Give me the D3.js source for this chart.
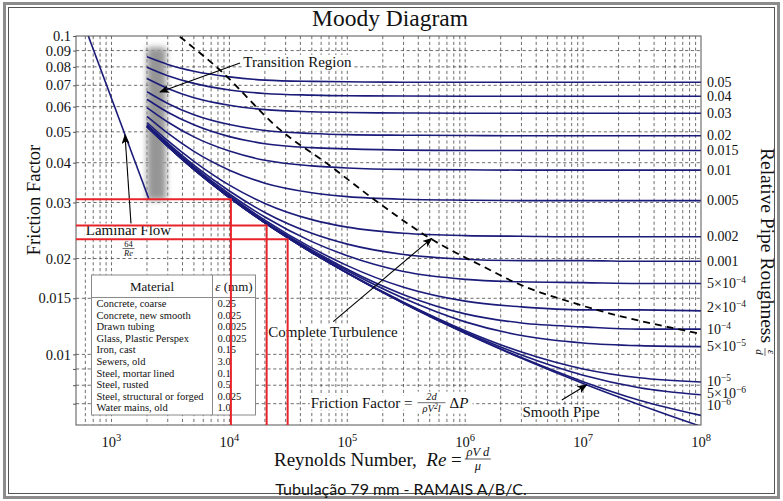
<!DOCTYPE html>
<html>
<head>
<meta charset="utf-8">
<script src="https://cdn.jsdelivr.net/npm/d3@7"></script>
<style>
  body { margin: 0; background: #fff; }
  svg { display: block; }
  text { font-family: "Liberation Serif", "Times New Roman", serif; fill: #111; }
</style>
</head>
<body>
<svg id="chart" width="783" height="501"></svg>
<script>
// ---- data ----
const reSamples = [2000, 3000, 5000, 1e4, 2e4, 5e4, 1e5, 3e5, 1e6, 3e6, 1e7, 3e7, 1e8];

const roughLabels = ["0.05", "0.04", "0.03", "0.02", "0.015", "0.01", "0.005", "0.002", "0.001",
  "5×10|−4", "2×10|−4", "10|−4", "5×10|−5", "10|−5", "5×10|−6", "10|−6", ""];

const fRough050 = [0.0860, 0.0814, 0.0775, 0.0744, 0.0727, 0.0720, 0.0718, 0.0716, 0.0716, 0.0716, 0.0716, 0.0716, 0.0716];
const fRough040 = [0.0798, 0.0750, 0.0710, 0.0677, 0.0660, 0.0652, 0.0649, 0.0648, 0.0647, 0.0647, 0.0647, 0.0647, 0.0647];
const fRough030 = [0.0735, 0.0684, 0.0640, 0.0606, 0.0587, 0.0578, 0.0575, 0.0573, 0.0572, 0.0572, 0.0572, 0.0572, 0.0572];
const fRough020 = [0.0668, 0.0614, 0.0566, 0.0527, 0.0505, 0.0494, 0.0490, 0.0488, 0.0487, 0.0486, 0.0486, 0.0486, 0.0486];
const fRough015 = [0.0633, 0.0576, 0.0526, 0.0483, 0.0459, 0.0446, 0.0442, 0.0438, 0.0437, 0.0437, 0.0437, 0.0437, 0.0437];
const fRough010 = [0.0596, 0.0537, 0.0482, 0.0435, 0.0407, 0.0391, 0.0385, 0.0381, 0.0380, 0.0379, 0.0379, 0.0379, 0.0379];
const fRough005 = [0.0559, 0.0495, 0.0434, 0.0379, 0.0345, 0.0322, 0.0313, 0.0307, 0.0305, 0.0304, 0.0304, 0.0304, 0.0304];
const fRough002 = [0.0535, 0.0469, 0.0404, 0.0340, 0.0298, 0.0265, 0.0251, 0.0240, 0.0236, 0.0235, 0.0234, 0.0234, 0.0234];
const fRough001 = [0.0527, 0.0461, 0.0393, 0.0326, 0.0279, 0.0240, 0.0222, 0.0206, 0.0199, 0.0197, 0.0197, 0.0196, 0.0196];
const fRough5e4 = [0.0523, 0.0456, 0.0388, 0.0319, 0.0270, 0.0226, 0.0204, 0.0182, 0.0172, 0.0169, 0.0168, 0.0167, 0.0167];
const fRough2e4 = [0.0521, 0.0453, 0.0384, 0.0315, 0.0264, 0.0216, 0.0190, 0.01625, 0.0147, 0.0141, 0.0138, 0.0138, 0.0137];
const fRough1e4 = [0.0520, 0.0452, 0.0383, 0.0313, 0.0261, 0.0213, 0.0185, 0.0154, 0.0134, 0.01255, 0.0122, 0.0120, 0.0120];
const fRough5e5 = [0.0520, 0.0451, 0.0382, 0.0312, 0.0260, 0.0211, 0.0183, 0.0150, 0.01265, 0.01146, 0.01086, 0.01065, 0.01058];
const fRough1e5 = [0.0520, 0.0451, 0.0381, 0.0311, 0.0259, 0.0209, 0.01805, 0.01458, 0.01187, 0.01017, 0.0090, 0.00844, 0.00819];
const fRough5e6 = [0.0519, 0.0451, 0.0381, 0.0311, 0.0259, 0.0209, 0.0180, 0.01452, 0.01176, 0.00995, 0.0086, 0.00786, 0.00747];
const fRough1e6 = [0.0519, 0.0450, 0.0381, 0.0311, 0.0259, 0.0209, 0.0180, 0.01448, 0.01167, 0.00977, 0.00821, 0.00718, 0.00643];
const fSmooth   = [0.0519, 0.0450, 0.0381, 0.0311, 0.0259, 0.0209, 0.0180, 0.01446, 0.01164, 0.00972, 0.00810, 0.00695, 0.00594];

const frictionCurves = [fRough050, fRough040, fRough030, fRough020, fRough015, fRough010, fRough005,
  fRough002, fRough001, fRough5e4, fRough2e4, fRough1e4, fRough5e5, fRough1e5, fRough5e6, fRough1e6, fSmooth];

// laminar 64/Re segment end points
const laminarRe = [636, 2080];
const laminarF = [0.1, 0.0307];

// complete turbulence boundary (dashed)
const turbRe = [3800, 8300, 27000, 67000, 172000, 503000, 1.52e6, 2.56e6, 9.4e6, 1e8];
const turbF = [0.0995, 0.0782, 0.0507, 0.0398, 0.0305, 0.02315, 0.01864, 0.01692, 0.0143, 0.01160];

// transition band
const bandRe = [2000, 2900];
const bandF = [0.0305, 0.092];

// red operating points of the pipe
const pipeRe = [10300, 20700, 31200];
const pipeF = [0.0307, 0.0254, 0.0230];

// axes
const yTickVals = [0.1, 0.09, 0.08, 0.07, 0.06, 0.05, 0.04, 0.03, 0.02, 0.015, 0.01];
const yTickText = ["0.1", "0.09", "0.08", "0.07", "0.06", "0.05", "0.04", "0.03", "0.02", "0.015", "0.01"];
const yMinorVals = [0.009, 0.008, 0.007];
const xTickVals = [1e3, 1e4, 1e5, 1e6, 1e7, 1e8];
const xTickExp = ["3", "4", "5", "6", "7", "8"];

// materials table
const materials = ["Concrete, coarse", "Concrete, new smooth", "Drawn tubing", "Glass, Plastic Perspex",
  "Iron, cast", "Sewers, old", "Steel, mortar lined", "Steel, rusted", "Steel, structural or forged", "Water mains, old"];
const roughMM = ["0.25", "0.025", "0.0025", "0.0025", "0.15", "3.0", "0.1", "0.5", "0.025", "1.0"];

// ---- drawing ----
const svg = d3.select("#chart");
const navy = "#1b1b7a";
const red = "#e8242b";

const x = d3.scaleLog().domain([500, 1e8]).range([76, 701]);
const y = d3.scaleLog().domain([0.006, 0.1]).range([425, 36]);
const [x0, x1] = x.range();
const [yb, yt] = y.range();

// frame round the picture
svg.append("rect").attr("x", 4.5).attr("y", 3.5).attr("width", 774).attr("height", 494)
  .attr("fill", "none").attr("stroke", "#8c8c8c").attr("stroke-width", 3);
svg.append("rect").attr("x", 8.5).attr("y", 7.5).attr("width", 766).attr("height", 486)
  .attr("fill", "none").attr("stroke", "#555").attr("stroke-width", 1);

const defs = svg.append("defs");
defs.append("clipPath").attr("id", "plotClip").append("rect")
  .attr("x", x0).attr("y", yt).attr("width", x1 - x0).attr("height", yb - yt);
defs.append("filter").attr("id", "blur").attr("x", "-50%").attr("y", "-20%").attr("width", "200%").attr("height", "140%")
  .append("feGaussianBlur").attr("stdDeviation", 3.2);
defs.append("marker").attr("id", "arrow").attr("viewBox", "0 0 10 8").attr("refX", 9).attr("refY", 4)
  .attr("markerWidth", 10).attr("markerHeight", 8).attr("markerUnits", "userSpaceOnUse").attr("orient", "auto")
  .append("path").attr("d", "M0,0 L10,4 L0,8 L2.5,4 Z").attr("fill", "#000");

// grid
const grid = svg.append("g").attr("stroke", "#4a4a4a").attr("stroke-width", 0.8).attr("stroke-dasharray", "3.2,2.6");
grid.selectAll("line.v").data(x.ticks().filter(v => v > 500 && v < 1e8)).join("line")
  .attr("x1", d => x(d)).attr("x2", d => x(d)).attr("y1", yt).attr("y2", yb);
grid.selectAll("line.h").data(yMinorVals.concat(yTickVals.slice(1))).join("line")
  .attr("y1", d => y(d)).attr("y2", d => y(d)).attr("x1", x0).attr("x2", x1);

const plot = svg.append("g").attr("clip-path", "url(#plotClip)");

// transition band
plot.append("rect")
  .attr("x", x(bandRe[0])).attr("width", x(bandRe[1]) - x(bandRe[0]))
  .attr("y", y(bandF[1])).attr("height", y(bandF[0]) - y(bandF[1]))
  .attr("fill", "#959595").attr("filter", "url(#blur)");

// friction curves
const line = d3.line().x((d, i) => x(reSamples[i])).y(d => y(d)).curve(d3.curveMonotoneX);
plot.selectAll("path.curve").data(frictionCurves).join("path")
  .attr("fill", "none").attr("stroke", navy).attr("stroke-width", 1.6).attr("d", line);

// laminar line
plot.append("path")
  .attr("d", d3.line()(laminarRe.map((r, i) => [x(r), y(laminarF[i])])))
  .attr("stroke", navy).attr("stroke-width", 1.6).attr("fill", "none");

// turbulence boundary
plot.append("path")
  .attr("d", d3.line().curve(d3.curveMonotoneX)(turbRe.map((r, i) => [x(r), y(turbF[i])])))
  .attr("stroke", "#000").attr("stroke-width", 1.8).attr("stroke-dasharray", "7,5").attr("fill", "none");

// plot box
svg.append("rect").attr("x", x0).attr("y", yt).attr("width", x1 - x0).attr("height", yb - yt)
  .attr("fill", "none").attr("stroke", "#555").attr("stroke-width", 1);

// left axis
const yAxis = svg.append("g").attr("transform", `translate(${x0},0)`)
  .call(d3.axisLeft(y).tickValues(yTickVals.concat(yMinorVals)).tickSize(3).tickPadding(2)
    .tickFormat(d => { const i = yTickVals.indexOf(d); return i < 0 ? "" : yTickText[i]; }));
yAxis.select(".domain").remove();
yAxis.selectAll("line").attr("stroke", "#555");
yAxis.selectAll("text").attr("font-family", "Liberation Serif, serif").attr("font-size", 14.5).attr("fill", "#111");

// bottom axis labels 10^n
const xl = svg.append("g");
xTickVals.forEach((v, i) => {
  const t = xl.append("text").attr("x", x(v)).attr("y", yb + 22).attr("text-anchor", "middle").attr("font-size", 14.5);
  t.append("tspan").text("10");
  t.append("tspan").attr("dy", -6).attr("font-size", 10.5).text(xTickExp[i]);
});

// right-hand roughness labels
const labelNudge = { "2×10|−4": -3, "5×10|−6": -1.5, "10|−6": -9.5 };
const rl = svg.append("g");
roughLabels.forEach((lab, i) => {
  if (!lab) return;
  const fEnd = frictionCurves[i][frictionCurves[i].length - 1];
  const t = rl.append("text").attr("x", x1 + 6).attr("y", y(fEnd) + (labelNudge[lab] || 0) + 4.5).attr("font-size", 14);
  const parts = lab.split("|");
  t.append("tspan").text(parts[0]);
  if (parts[1]) t.append("tspan").attr("dy", -5).attr("font-size", 9.5).text(parts[1]);
});

// materials table
const tbl = svg.append("g").attr("transform", "translate(91.5,275)");
const tw = 164, th = 140, colX = 121;
tbl.append("rect").attr("width", tw).attr("height", th).attr("fill", "#fff").attr("stroke", "#8a8a8a");
tbl.append("line").attr("x1", 0).attr("x2", tw).attr("y1", 22.5).attr("y2", 22.5).attr("stroke", "#8a8a8a");
tbl.append("line").attr("x1", colX).attr("x2", colX).attr("y1", 0).attr("y2", th).attr("stroke", "#8a8a8a");
tbl.append("text").attr("x", colX / 2).attr("y", 16).attr("text-anchor", "middle").attr("font-size", 13).text("Material");
const hdr = tbl.append("text").attr("x", (colX + tw) / 2).attr("y", 16).attr("text-anchor", "middle").attr("font-size", 13);
hdr.append("tspan").attr("font-style", "italic").text("ε");
hdr.append("tspan").text(" (mm)");
tbl.selectAll("text.mat").data(materials).join("text").attr("class", "mat")
  .attr("x", 5).attr("y", (d, i) => 32 + i * 11.6).attr("font-size", 10.5).text(d => d);
tbl.selectAll("text.eps").data(roughMM).join("text").attr("class", "eps")
  .attr("x", colX + 5).attr("y", (d, i) => 32 + i * 11.6).attr("font-size", 10.5).text(d => d);

// annotations (white box behind text)
const ann = svg.append("g");
function label(xp, yp, str, anchor) {
  const t = ann.append("text").attr("x", xp).attr("y", yp).attr("font-size", 15)
    .attr("text-anchor", anchor || "start").attr("dominant-baseline", "central").text(str);
  const b = t.node().getBBox();
  ann.insert("rect", () => t.node()).attr("x", b.x - 1).attr("y", b.y + 1).attr("width", b.width + 2)
    .attr("height", b.height - 2).attr("fill", "#fff");
  return t;
}
function arrow(r0, f0, r1, f1) {
  ann.append("line").attr("x1", x(r0)).attr("y1", y(f0)).attr("x2", x(r1)).attr("y2", y(f1))
    .attr("stroke", "#000").attr("stroke-width", 1.1).attr("marker-end", "url(#arrow)");
}

arrow(12300, 0.0823, 2579, 0.0667);
label(x(13120), y(0.0829), "Transition Region");

arrow(1464, 0.0257, 1302, 0.0489);
label(x(1394), y(0.0245), "Laminar Flow", "middle");
const fr = ann.append("g").attr("transform", `translate(${x(1394)},${y(0.0215)})`);
fr.append("text").attr("y", -1.5).attr("text-anchor", "middle").attr("font-size", 8.5).text("64");
fr.append("line").attr("x1", -6).attr("x2", 6).attr("y1", 0).attr("y2", 0).attr("stroke", "#111").attr("stroke-width", 0.6);
fr.append("text").attr("y", 7.5).attr("text-anchor", "middle").attr("font-size", 8.5).attr("font-style", "italic").text("Re");

arrow(76000, 0.01267, 5.2e5, 0.02315);
label(x(75640), y(0.01178), "Complete Turbulence", "middle");

arrow(6.6e6, 0.00719, 1.07e7, 0.00801);
label(x(6.5e6), y(0.00658), "Smooth Pipe", "middle");

// Friction Factor = 2d/(rho V^2 l) dP
const ffx = x(48950), ffy = y(0.00705);
const ffText = label(ffx, ffy, "Friction Factor =");
const ffw = ffText.node().getComputedTextLength();
ann.insert("rect", () => ffText.node()).attr("x", ffx + ffw - 2).attr("y", ffy - 11).attr("width", 62).attr("height", 22).attr("fill", "#fff");
const ffr = ann.append("g").attr("transform", `translate(${ffx + ffw + 19},${ffy})`);
ffr.append("text").attr("y", -3).attr("text-anchor", "middle").attr("font-size", 10.5).attr("font-style", "italic").text("2d");
ffr.append("line").attr("x1", -14).attr("x2", 14).attr("stroke", "#111").attr("stroke-width", 0.6);
const den = ffr.append("text").attr("y", 9.5).attr("text-anchor", "middle").attr("font-size", 10.5).attr("font-style", "italic");
den.append("tspan").text("ρV");
den.append("tspan").attr("dy", -3).attr("font-size", 7.5).text("2");
den.append("tspan").attr("dy", 3).text("l");
ann.append("text").attr("x", ffx + ffw + 37).attr("y", ffy).attr("dominant-baseline", "central").attr("font-size", 15)
  .html('Δ<tspan font-style="italic">P</tspan>');

// red guide lines for the pipe cases
const guides = svg.append("g").attr("stroke", red).attr("stroke-width", 2).attr("fill", "none");
guides.selectAll("path").data(pipeRe).join("path")
  .attr("d", (r, i) => `M${x0},${y(pipeF[i])}H${x(r)}V${yb}`);

// title
svg.append("text").attr("x", 390).attr("y", 26).attr("text-anchor", "middle").attr("font-size", 23.5).text("Moody Diagram");

// y title
svg.append("text").attr("transform", "translate(40,200) rotate(-90)").attr("text-anchor", "middle")
  .attr("font-size", 18.5).text("Friction Factor");

// x title
const xt = svg.append("text").attr("x", 274).attr("y", 466).attr("font-size", 19);
xt.append("tspan").text("Reynolds Number,\u00a0\u00a0");
xt.append("tspan").attr("font-style", "italic").text("Re");
xt.append("tspan").text("\u00a0=");
const xtw = xt.node().getComputedTextLength();
const xf = svg.append("g").attr("transform", `translate(${274 + xtw + 16},459)`);
xf.append("text").attr("y", -3).attr("text-anchor", "middle").attr("font-size", 12.5).attr("font-style", "italic").text("ρV d");
xf.append("line").attr("x1", -13).attr("x2", 13).attr("stroke", "#111").attr("stroke-width", 0.7);
xf.append("text").attr("y", 11).attr("text-anchor", "middle").attr("font-size", 12.5).attr("font-style", "italic").text("μ");

// right title
const rg = svg.append("g").attr("transform", "translate(767,148) rotate(90)");
const rt = rg.append("text").attr("dominant-baseline", "central").attr("font-size", 19.5).text("Relative Pipe Roughness");
const rtw = rt.node().getComputedTextLength();
const rf = rg.append("g").attr("transform", `translate(${rtw + 9},2)`);
rf.append("text").attr("y", -3).attr("text-anchor", "middle").attr("font-size", 11).attr("font-style", "italic").text("ε");
rf.append("line").attr("x1", -4).attr("x2", 4).attr("stroke", "#111").attr("stroke-width", 0.6);
rf.append("text").attr("y", 9).attr("text-anchor", "middle").attr("font-size", 11).attr("font-style", "italic").text("d");

// caption
svg.append("text").attr("x", 401).attr("y", 495).attr("text-anchor", "middle")
  .style("font-family", "Lato, 'Open Sans', sans-serif").attr("font-size", 16).text("Tubulação 79 mm - RAMAIS A/B/C.");
</script>
</body>
</html>
